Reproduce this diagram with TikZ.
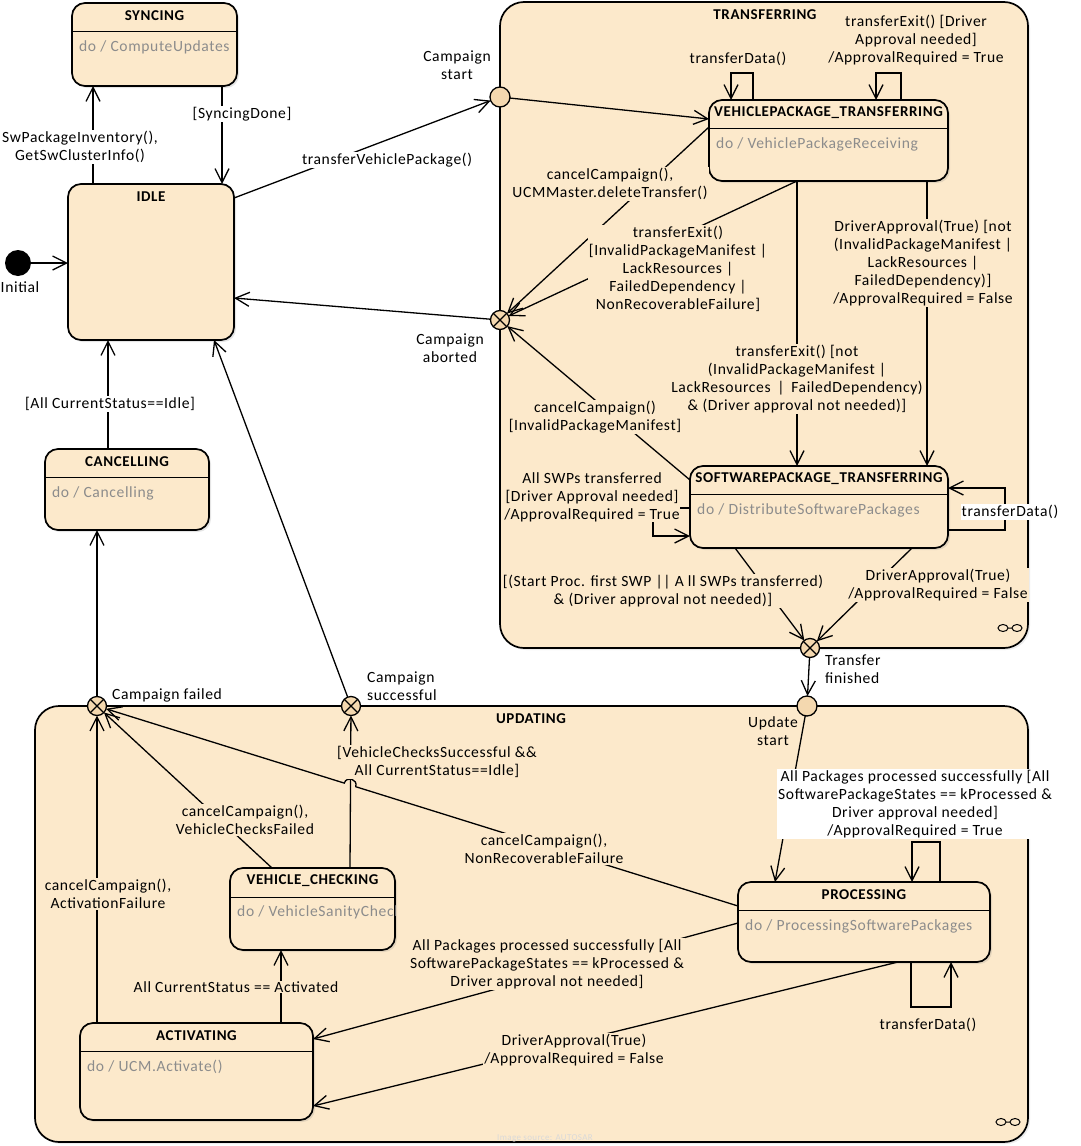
\documentclass[tikz,border=0pt]{standalone}
\usepackage{fontspec}
\setmainfont{Carlito}
\newfontfamily\lblfont{Carlito}[LetterSpace=4]
\usetikzlibrary{arrows.meta,calc,shadows}
\definecolor{stfill}{RGB}{252,233,203}
\definecolor{pfill}{RGB}{244,216,175}
\definecolor{dogray}{RGB}{140,140,140}
\newcommand{\lfont}{\lblfont\fontsize{15.6}{18}\selectfont}
\newcommand{\tfont}{\lblfont\bfseries\fontsize{15}{18}\selectfont}
\tikzset{
  trans/.style={line width=1.3pt, -{Straight Barb[length=14pt,width=14pt,line width=1.3pt]}},
  lbl/.style={font=\lfont, align=center, inner sep=1pt, fill=stfill},
  lblw/.style={lbl, fill=white},
  stbox/.style={draw, line width=1.7pt, rounded corners=13pt, fill=stfill, inner sep=0pt, outer sep=0pt,
    drop shadow={shadow xshift=2pt, shadow yshift=-2pt, opacity=0.2}},
  comp/.style={draw, line width=1.7pt, rounded corners=24pt, fill=stfill, inner sep=0pt, outer sep=0pt,
    drop shadow={shadow xshift=2pt, shadow yshift=-2pt, opacity=0.15}},
  sttitle/.style={font=\tfont, inner sep=0pt},
  dotext/.style={font=\lfont, text=dogray, anchor=west, inner sep=0pt},
  entryp/.style={circle, draw, line width=1.3pt, fill=pfill, minimum size=20pt, inner sep=0pt, outer sep=0pt},
  exitp/.style={entryp, minimum size=19pt, path picture={
      \draw[line width=1.2pt] (path picture bounding box.north west) -- (path picture bounding box.south east)
        (path picture bounding box.north east) -- (path picture bounding box.south west);}},
  initp/.style={circle, fill=black, minimum size=26pt, inner sep=0pt, outer sep=0pt},
}
\newcommand{\mkstate}[7]{%
  \node[stbox, minimum width={#4-#2}, minimum height={#5-#3}] (#1) at ({(#2+#4)/2},{(#3+#5)/2}) {};
  \node[sttitle] (#1-t) at ({(#2+#4)/2},{#3+13}) {#6};
  \draw[line width=1.4pt] ({#2},{#3+28.5}) -- ({#4},{#3+28.5});
  \node[dotext] (#1-d) at ({#2+7},{#3+44}) {#7};
}
\begin{document}
\begin{tikzpicture}[x=1pt,y=-1pt]
\useasboundingbox (0,0) rectangle (1080,1146);
\fill[white] (0,0) rectangle (1080,1146);

% composite states
\node[comp, minimum width=528, minimum height=646] (transferring) at (764,325) {};
\node[sttitle] (transferring-t) at (765,15) {TRANSFERRING};
\draw[line width=1pt] (1003,628) ellipse (5 and 3.5) (1017,628) ellipse (5 and 3.5) (1008,628) -- (1012,628);
\node[comp, minimum width=993, minimum height=436] (updating) at (531.5,924) {};
\node[sttitle] (updating-t) at (531,719) {UPDATING};
\draw[line width=1pt] (1001,1122) ellipse (5 and 3.5) (1015,1122) ellipse (5 and 3.5) (1006,1122) -- (1010,1122);

% simple states
\mkstate{sync}{72}{3}{237}{86}{SYNCING}{do / ComputeUpdates}
\node[stbox, minimum width=166, minimum height=156] (idle) at (151,262) {};
\node[sttitle] (idle-t) at (151,197) {IDLE};
\mkstate{vpt}{709}{100}{948}{181}{VEHICLEPACKAGE\_TRANSFERRING}{do / VehiclePackageReceiving}
\mkstate{spt}{690}{466}{948}{548}{SOFTWAREPACKAGE\_TRANSFERRING}{do / DistributeSoftwarePackages}
\mkstate{canc}{45}{449}{209}{530}{CANCELLING}{do / Cancelling}
\node[stbox, minimum width=165, minimum height=82] (vc) at (312.5,909) {};
\node[sttitle] (vc-t) at (312.5,881) {VEHICLE\_CHECKING};
\draw[line width=1.4pt] (230,897.5) -- (395,897.5);
\begin{scope}
  \clip (vc.north west) rectangle (vc.south east);
  \node[dotext] (vc-d) at (237,912) {do / VehicleSanityCheck};
\end{scope}
\mkstate{act}{80}{1023}{313}{1120}{ACTIVATING}{do / UCM.Activate()}
\mkstate{proc}{738}{882}{990}{962}{PROCESSING}{do / ProcessingSoftwarePackages}

% pseudostates
\node[initp] (init) at (18,263) {};
\node[entryp] (cstart) at (500,97) {};
\node[exitp] (cabort) at (500,320) {};
\node[exitp] (tfin) at (810,648) {};
\node[entryp] (ustart) at (807,706) {};
\node[exitp] (cfail) at (97,706) {};
\node[exitp] (csucc) at (351,706) {};

% transitions
\draw[trans] (init) -- (init -| idle.west);
\draw[trans] (93,0 |- idle.north) -- (93,0 |- sync.south);
\draw[trans] (222,0 |- sync.south) -- (222,0 |- idle.north);
\draw[trans] ([yshift=-14pt]idle.north east) -- (cstart);
\draw[trans] (cstart) -- (vpt.west |- 0,119);
\draw[trans] (vpt.west |- 0,127) -- (cabort);
\draw[trans] (797,0 |- vpt.south) -- (cabort);
\draw[trans] (797,0 |- vpt.south) -- (797,0 |- spt.north);
\draw[trans] (927,0 |- vpt.south) -- (927,0 |- spt.north);
\draw[trans] (753,0 |- vpt.north) -- (753,73) -- (731,73) -- (731,0 |- vpt.north);
\draw[trans] (901,0 |- vpt.north) -- (901,73) -- (876,73) -- (876,0 |- vpt.north);
\draw[trans] ([yshift=-14pt]spt.north west) -- (cabort);
\draw[trans] (spt.west |- 0,508) -- (653,508) -- (653,536) -- (spt.west |- 0,536);
\draw[trans] (spt.east |- 0,530) -- (1005,530) -- (1005,488) -- (spt.east |- 0,488);
\draw[trans] (735,0 |- spt.south) -- (tfin);
\draw[trans] (912,0 |- spt.south) -- (tfin);
\draw[trans] (tfin) -- (ustart);
\draw[trans] (cabort) -- (idle.east |- 0,298);
\draw[trans] (ustart) -- (775,0 |- proc.north);
\draw[trans] (940,0 |- proc.north) -- (940,842) -- (912,842) -- (912,0 |- proc.north);
\draw[trans] (911,0 |- proc.south) -- (911,1007) -- (951,1007) -- (951,0 |- proc.south);
\draw[trans] (proc.west |- 0,923) -- (act.east |- 0,1039);
\draw[trans] (898,0 |- proc.south) -- (act.east |- 0,1106);
\draw[trans] (281,0 |- act.north) -- (281,0 |- vc.south);
\draw[trans] (97,0 |- act.north) -- (cfail);
\draw[trans] (272,0 |- vc.north) -- (cfail);
\draw[trans] (350,0 |- vc.north) -- (csucc);
\draw[trans] (csucc) -- (214,0 |- idle.south);
\draw[trans] (cfail) -- (97,0 |- canc.south);
\draw[trans] (108,0 |- canc.north) -- (108,0 |- idle.south);
% NonRecoverableFailure with line hop over the vertical transition
\coordinate (npA) at (proc.west |- 0,906);
\coordinate (hop1) at (355.73,786.7);
\coordinate (hop2) at (344.27,783.1);
\draw[trans] (npA) -- (hop1) .. controls (358.1,779.1) and (346.7,775.5) .. (hop2) -- (cfail);

% labels
\node[lblw] (l-init) at (20,287) {Initial};
\node[lblw] (l-swp) at (80,147) {SwPackageInventory(),\\GetSwClusterInfo()};
\node[lblw] (l-sd) at (242,114) {[SyncingDone]};
\node[lblw] (l-tvp) at (387,160) {transferVehiclePackage()};
\node[lblw] (l-cs) at (457,65) {Campaign\\start};
\node[lblw] (l-ca) at (450,348) {Campaign\\aborted};
\node[lbl] (l-td1) at (738,59) {transferData()};
\node[lbl] (l-te1) at (916,40) {transferExit() [Driver\\Approval needed]\\/ApprovalRequired = True};
\node[lbl] (l-cc1) at (610,184) {cancelCampaign(),\\UCMMaster.deleteTransfer()};
\node[lbl] (l-te2) at (678,269) {transferExit()\\{}[InvalidPackageManifest |\\LackResources |\\FailedDependency |\\NonRecoverableFailure]};
\node[lbl] (l-da1) at (923,263) {DriverApproval(True) [not\\(InvalidPackageManifest |\\LackResources |\\FailedDependency)]\\/ApprovalRequired = False};
\node[lbl] (l-te3) at (797,379) {transferExit() [not\\(InvalidPackageManifest |\\LackResources \,|\, FailedDependency)\\\& (Driver approval not needed)]};
\node[lbl] (l-cc2) at (595,417) {cancelCampaign()\\{}[InvalidPackageManifest]};
\node[lbl, inner sep=0.3pt] (l-asw) at (592,497) {All SWPs transferred\\{}[Driver Approval needed]\\/ApprovalRequired = True};
\node[lblw] (l-td2) at (1010,512) {transferData()};
\node[lbl] (l-sp) at (663,591) {[(Start Proc. first SWP || A ll SWPs transferred)\\\& (Driver approval not needed)]};
\node[lbl] (l-da2) at (938,585) {DriverApproval(True)\\/ApprovalRequired = False};
\node[lblw, align=left, anchor=west] (l-tf) at (824,669) {Transfer\\finished};
\node[lbl] (l-us) at (773,731) {Update\\start};
\node[lblw, anchor=west] (l-cf) at (111,695) {Campaign failed};
\node[lblw, align=left, anchor=west] (l-csu) at (366,686) {Campaign\\successful};
\node[lblw] (l-aci) at (110,404) {[All CurrentStatus==Idle]};
\node[lbl] (l-vcs) at (437,762) {[VehicleChecksSuccessful \&\&\\All CurrentStatus==Idle]};
\node[lbl] (l-vcf) at (245,820) {cancelCampaign(),\\VehicleChecksFailed};
\node[lbl] (l-nrf) at (544,849) {cancelCampaign(),\\NonRecoverableFailure};
\node[lbl] (l-af) at (108,894) {cancelCampaign(),\\ActivationFailure};
\node[lbl] (l-acta) at (236,987) {All CurrentStatus == Activated};
\node[lbl] (l-app1) at (547,964) {All Packages processed successfully [All\\SoftwarePackageStates == kProcessed \&\\Driver approval not needed]};
\node[lbl] (l-da3) at (574,1050) {DriverApproval(True)\\/ApprovalRequired = False};
\node[lblw] (l-app2) at (915,804) {All Packages processed successfully [All\\SoftwarePackageStates == kProcessed \&\\Driver approval needed]\\/ApprovalRequired = True};
\node[lbl] (l-td3) at (928,1025) {transferData()};
\node[font=\lblfont\fontsize{9}{10}\selectfont, text=black!15, inner sep=0pt] (wm) at (545,1138) {Image source: AUTOSAR};
\end{tikzpicture}
\end{document}
